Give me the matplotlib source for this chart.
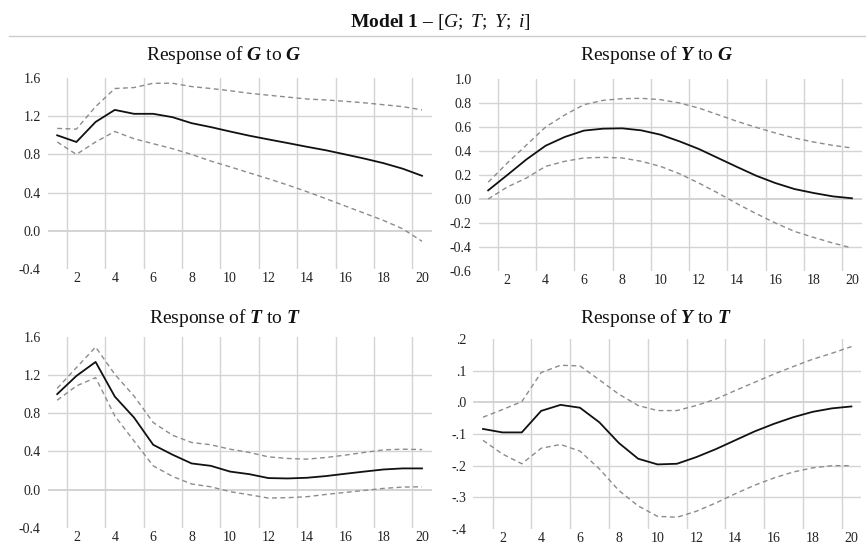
import numpy as np
import matplotlib
matplotlib.use("Agg")
import matplotlib.pyplot as plt
from matplotlib.lines import Line2D

plt.rcParams['font.family'] = ['Liberation Serif', 'DejaVu Serif']
plt.rcParams['mathtext.fontset'] = 'custom'
plt.rcParams['mathtext.rm'] = 'Liberation Serif'
plt.rcParams['mathtext.it'] = 'Liberation Serif:italic'
plt.rcParams['mathtext.bf'] = 'Liberation Serif:bold'
plt.rcParams['mathtext.bfit'] = 'Liberation Serif:italic:bold'
plt.rcParams['axes.unicode_minus'] = False

periods = np.arange(1, 21)

# Response of G to G
gg_mid = [1.00, 0.93, 1.14, 1.266, 1.225, 1.225, 1.19, 1.127, 1.086, 1.04,
          0.996, 0.957, 0.919, 0.88, 0.843, 0.80, 0.756, 0.708, 0.65, 0.576]
gg_up = [1.072, 1.065, 1.30, 1.49, 1.50, 1.545, 1.545, 1.51, 1.49, 1.467,
         1.44, 1.42, 1.40, 1.38, 1.37, 1.356, 1.34, 1.32, 1.30, 1.266]
gg_lo = [0.93, 0.80, 0.93, 1.04, 0.964, 0.912, 0.86, 0.80, 0.73, 0.67,
         0.607, 0.545, 0.48, 0.41, 0.336, 0.26, 0.184, 0.108, 0.02, -0.11]

# Response of Y to G
yg_mid = [0.072, 0.20, 0.33, 0.444, 0.517, 0.57, 0.586, 0.589, 0.572, 0.536,
          0.48, 0.417, 0.342, 0.267, 0.194, 0.133, 0.083, 0.05, 0.022, 0.006]
yg_up = [0.14, 0.30, 0.45, 0.60, 0.70, 0.786, 0.822, 0.836, 0.839, 0.828,
         0.80, 0.758, 0.703, 0.647, 0.597, 0.55, 0.508, 0.475, 0.447, 0.425]
yg_lo = [0.0, 0.10, 0.175, 0.272, 0.314, 0.342, 0.347, 0.342, 0.314, 0.272,
         0.21, 0.133, 0.05, -0.039, -0.122, -0.20, -0.27, -0.32, -0.367, -0.408]

# Response of T to T
tt_mid = [1.0, 1.19, 1.336, 0.974, 0.755, 0.47, 0.367, 0.275, 0.25, 0.19,
          0.163, 0.122, 0.118, 0.125, 0.143, 0.167, 0.19, 0.212, 0.223, 0.223]
tt_up = [1.06, 1.277, 1.492, 1.207, 0.98, 0.703, 0.57, 0.494, 0.47, 0.424,
         0.39, 0.344, 0.327, 0.32, 0.337, 0.362, 0.39, 0.417, 0.424, 0.42]
tt_lo = [0.936, 1.085, 1.172, 0.772, 0.51, 0.25, 0.14, 0.06, 0.031, -0.02,
         -0.052, -0.087, -0.083, -0.073, -0.049, -0.028, -0.007, 0.014, 0.028, 0.031]

# Response of Y to T
yt_mid = [-0.084, -0.095, -0.095, -0.027, -0.008, -0.017, -0.063, -0.128, -0.178, -0.196,
          -0.194, -0.173, -0.148, -0.12, -0.092, -0.068, -0.047, -0.03, -0.019, -0.013]
yt_up = [-0.047, -0.023, 0.002, 0.094, 0.117, 0.115, 0.071, 0.026, -0.01, -0.026,
         -0.026, -0.01, 0.01, 0.037, 0.063, 0.089, 0.113, 0.136, 0.155, 0.176]
yt_lo = [-0.12, -0.163, -0.194, -0.145, -0.133, -0.154, -0.21, -0.278, -0.327, -0.36,
         -0.363, -0.344, -0.318, -0.289, -0.262, -0.239, -0.22, -0.207, -0.2, -0.2]

W, H = 866, 548
fig = plt.figure(figsize=(W / 100, H / 100), dpi=100)

def add_ax(l, t, r, b):
    return fig.add_axes([l / W, 1 - b / H, (r - l) / W, (b - t) / H])

def draw_panel(ax, mid, up, lo, yticks, ylabels):
    for x in np.arange(1.5, 20, 2):
        ax.axvline(x, color='#d4d4d4', lw=1.0, zorder=0)
    for y in yticks[1:-1]:
        ax.axhline(y, color='#d4d4d4', lw=1.4 if abs(y) < 1e-9 else 1.0, zorder=0)
    ax.plot(periods, up, color='#8c8c8c', lw=1.0, ls=(0, (3.5, 2.5)))
    ax.plot(periods, lo, color='#8c8c8c', lw=1.0, ls=(0, (3.5, 2.5)))
    ax.plot(periods, mid, color='#111111', lw=1.3)
    ax.set_xlim(0.5, 20.5)
    ax.set_ylim(yticks[0], yticks[-1])
    ax.set_xticks(np.arange(2, 21, 2))
    ax.set_yticks(yticks)
    ax.set_yticklabels(ylabels)
    ax.tick_params(length=0, labelsize=10, colors='#222222')
    ax.tick_params(axis='y', pad=5)
    ax.tick_params(axis='x', pad=2)
    for s in ax.spines.values():
        s.set_visible(False)

yt1 = [-0.4, 0.0, 0.4, 0.8, 1.2, 1.6]
yl1 = ['%.1f' % v for v in yt1]
yt2 = [-0.6, -0.4, -0.2, 0.0, 0.2, 0.4, 0.6, 0.8, 1.0]
yl2 = ['%.1f' % v for v in yt2]
yt4 = [-0.4, -0.3, -0.2, -0.1, 0.0, 0.1, 0.2]
yl4 = ['-.4', '-.3', '-.2', '-.1', '.0', '.1', '.2']

ax1 = add_ax(47.6, 78, 431.6, 269)
draw_panel(ax1, gg_mid, gg_up, gg_lo, yt1, yl1)
ax2 = add_ax(478.6, 79, 861.5, 271)
draw_panel(ax2, yg_mid, yg_up, yg_lo, yt2, yl2)
ax3 = add_ax(47.6, 336.7, 431.6, 528)
draw_panel(ax3, tt_mid, tt_up, tt_lo, yt1, yl1)
ax4 = add_ax(473.3, 339, 861.1, 529)
draw_panel(ax4, yt_mid, yt_up, yt_lo, yt4, yl4)

titles = [(224, 55, r"Response of $\mathbfit{G}$ to $\mathbfit{G}$"),
          (657, 55, r"Response of $\mathbfit{Y}$ to $\mathbfit{G}$"),
          (225, 318, r"Response of $\mathbfit{T}$ to $\mathbfit{T}$"),
          (656, 318, r"Response of $\mathbfit{Y}$ to $\mathbfit{T}$")]
for x, y, s in titles:
    fig.text(x / W, 1 - y / H, s, ha='center', va='center', fontsize=14, color='#111111')

fig.text(440 / W, 1 - 22 / H, r"Model 1 – $[G;\ T;\ Y;\ i]$", ha='center', va='center',
         fontsize=14, fontweight='bold', color='#111111')
fig.add_artist(Line2D([9 / W, 1.0], [1 - 36 / H] * 2, transform=fig.transFigure,
                      color='#cccccc', lw=1.0))

fig.savefig('out.png', dpi=100)
